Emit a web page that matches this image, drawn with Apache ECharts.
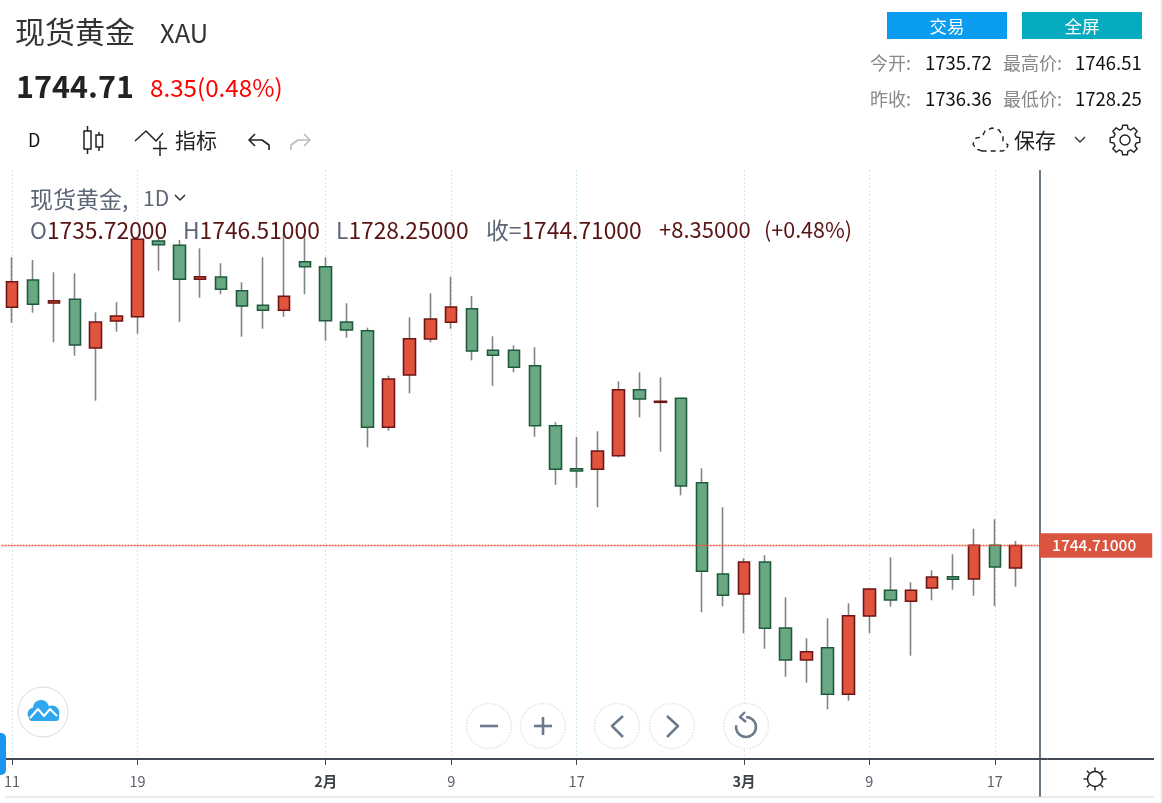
<!DOCTYPE html>
<html><head><meta charset="utf-8">
<style>html,body{margin:0;padding:0;background:#fff}#c{width:1162px;height:803px}</style>
<script src="https://cdn.jsdelivr.net/npm/echarts@6/dist/echarts.min.js"></script>
</head><body><div id="c"></div>
<script>
const dates = ['01-11','01-12','01-13','01-14','01-15','01-18','01-19','01-20','01-21','01-22','01-25','01-26','01-27','01-28','01-29',
 '02-01','02-02','02-03','02-04','02-05','02-08','02-09','02-10','02-11','02-12','02-15','02-16','02-17','02-18','02-19','02-22','02-23','02-24','02-25','02-26',
 '03-01','03-02','03-03','03-04','03-05','03-08','03-09','03-10','03-11','03-12','03-15','03-16','03-17','03-18',''];
const tickLabels = {'01-11':'11','01-19':'19','02-01':'2月','02-09':'9','02-17':'17','03-01':'3月','03-09':'9','03-17':'17'};
const opens = [1839.99,1850.91,1841.71,1843.19,1823.71,1834.51,1836.23,1866.51,1864.79,1851.19,1852.11,1846.63,1840.79,1838.79,1858.23,1856.23,1834.11,1830.63,1791.99,1812.91,1827.31,1833.99,1839.43,1822.79,1822.79,1816.63,1792.63,1775.43,1775.19,1780.63,1807.03,1801.99,1803.59,1769.83,1733.31,1725.31,1738.11,1711.71,1698.91,1703.83,1685.19,1716.51,1726.79,1722.39,1727.71,1732.23,1731.31,1744.79,1735.72];
const closes = [1850.23,1841.19,1842.63,1824.91,1834.11,1836.51,1867.19,1865.03,1851.19,1852.23,1847.19,1840.51,1838.79,1844.39,1856.23,1834.63,1830.91,1791.99,1811.31,1827.43,1835.31,1840.11,1822.51,1820.79,1815.99,1792.63,1775.19,1774.51,1782.51,1807.03,1803.31,1802.39,1768.51,1734.39,1724.79,1738.11,1711.59,1698.91,1702.23,1685.19,1716.63,1727.31,1722.91,1726.79,1732.11,1731.19,1744.79,1736.11,1744.71];
const lows = [1833.83,1837.83,1825.99,1820.63,1802.63,1830.23,1829.43,1854.63,1834.23,1843.83,1845.19,1828.23,1831.43,1836.23,1845.19,1826.63,1827.83,1783.99,1790.63,1805.59,1825.99,1831.43,1818.79,1808.63,1813.99,1788.23,1769.03,1767.83,1759.99,1779.99,1795.99,1782.23,1764.79,1717.99,1720.39,1709.59,1703.43,1692.23,1689.83,1679.19,1682.63,1709.59,1720.23,1700.63,1722.79,1727.03,1724.63,1720.51,1728.25];
const highs = [1859.99,1858.91,1853.99,1853.59,1837.99,1841.99,1867.31,1867.71,1866.91,1863.59,1857.59,1849.99,1859.99,1869.71,1869.71,1859.99,1841.59,1831.83,1812.63,1835.99,1845.59,1852.23,1844.51,1828.39,1824.79,1823.99,1793.99,1788.11,1790.39,1810.39,1813.99,1811.99,1803.71,1775.59,1759.99,1739.59,1740.79,1723.99,1707.59,1715.59,1721.59,1727.43,1739.99,1729.99,1734.79,1741.19,1751.43,1755.19,1746.51];
const lastPrice = 1744.71;
const axisMin = 1659.31, axisMax = 1894.91;
const splitColors = ['#cde6ea','#d5ecdc','#cde6ea','#cde6ea','#cde6ea','#e0e0f0','#efd6ef','#efd6ef'];

const FONT = '"Noto Sans CJK SC","Noto Sans",sans-serif';
const wickData = opens.map((o,i)=>[o,closes[i],lows[i],highs[i]]);
const bodyData = opens.map((o,i)=>[o,closes[i],Math.min(o,closes[i]),Math.max(o,closes[i])]);

const g = [];
function T(text,x,y,size,fill,o){o=o||{};g.push({type:'text',z:100,x:x,y:y,style:{text:text,fill:fill,font:(o.weight||'normal')+' '+size+'px '+FONT,align:o.align||'left',verticalAlign:'middle'}});}
function L(pts,stroke,w,o){o=o||{};g.push({type:'polyline',z:o.z===undefined?100:o.z,shape:{points:pts},style:{stroke:stroke,lineWidth:w,fill:null,lineDash:o.dash,lineCap:o.cap||'butt',lineJoin:'round'}});}
function R(x,y,w,h,fill,r,st){g.push({type:'rect',z:100,shape:{x:x,y:y,width:w,height:h,r:r||0},style:{fill:fill,stroke:st||null}});}
function C(cx,cy,r,fill,stroke,o){o=o||{};g.push({type:'circle',z:o.z||100,shape:{cx:cx,cy:cy,r:r},style:{fill:fill,stroke:stroke,lineWidth:o.w||1,lineDash:o.dash}});}

// header
T('现货黄金',15,32,30,'#333');
T('XAU',160,33,25.5,'#333');
T('1744.71',16,86,30.5,'#222',{weight:'bold'});
T('8.35(0.48%)',150,88,24.2,'#f00');
T('D',28,140,18,'#111');
// candle icon
L([[87.5,126],[87.5,154]],'#222',1.5); g.push({type:'rect',z:101,shape:{x:84,y:131,width:7,height:18},style:{fill:'#fff',stroke:'#222',lineWidth:1.5}});
L([[99,132],[99,151]],'#222',1.5); g.push({type:'rect',z:101,shape:{x:96,y:135,width:6.5,height:12},style:{fill:'#fff',stroke:'#222',lineWidth:1.5}});
// indicators icon
L([[135,141],[146,131],[156,141],[163,133]],'#222',1.5);
L([[160,141],[160,156]],'#222',1.5); L([[153,148.5],[167,148.5]],'#222',1.5);
T('指标',175,140,21,'#222');
// undo / redo
L([[255,134],[249,140],[255,146]],'#222',1.6); L([[249,140],[262,140],[269,145],[269,150]],'#222',1.6);
L([[304,134],[310,140],[304,146]],'#bbb',1.6); L([[310,140],[298,140],[291,145],[291,150]],'#bbb',1.6);
// legend
T('现货黄金,',30,199,23,'#5c6678'); T('1D',143,198,21,'#5c6678');
L([[175,195],[180,200],[185,195]],'#333',1.5);
const RS=22.8, rich={a:{fill:'#5c6678',font:RS+'px '+FONT},b:{fill:'#5a1414',font:RS+'px '+FONT}};
[['O','1735.72000',30],['H','1746.51000',183],['L','1728.25000',336],['收=','1744.71000',486]].forEach(a=>{
  g.push({type:'text',z:100,x:a[2],y:230,style:{text:'{a|'+a[0]+'}{b|'+a[1]+'}',font:RS+'px '+FONT,verticalAlign:'middle',rich:rich}});
});
T('+8.35000',659,230,22,'#5a1414');
T('(+0.48%)',764,230,21.5,'#5a1414');
// right top
R(887,12,120,27,'#0a9cef'); R(1022,12,120,27,'#06abc0');
T('交易',947,26,17.5,'#fff',{align:'center'}); T('全屏',1082,26,17.5,'#fff',{align:'center'});
[['今开:','1735.72','最高价:','1746.51',63],['昨收:','1736.36','最低价:','1728.25',99]].forEach(r=>{
  T(r[0],870,r[4],18,'#888'); T(r[1],925,r[4],18.5,'#111'); T(r[2],1003,r[4],18,'#888'); T(r[3],1075,r[4],18.5,'#111');
});
// cloud, save
const cloud=[[982,151],[976,149],[973,144],[976,138],[982,137],[985,131],[992,128],[999,130],[1003,136],[1003,141],[1008,145],[1006,150],[1002,151],[982,151]];
L(cloud,'#222',1.4,{dash:[5,4]});
T('保存',1014,140,21,'#222');
L([[1075,137],[1080,142],[1085,137]],'#333',1.4);
// gear
(function(){const pts=[],cx=1125,cy=140,n=8;for(let i=0;i<n;i++){const a=i/n*Math.PI*2;[[-.26,15],[-.16,15],[.16,15],[.26,15]].forEach((d,j)=>{const r=(j===0||j===3)?11.5:15;const t=a+d[0];pts.push([cx+r*Math.cos(t),cy+r*Math.sin(t)]);});const t=a+Math.PI/n;pts.push([cx+11.5*Math.cos(t),cy+11.5*Math.sin(t)]);}pts.push(pts[0]);L(pts,'#222',1.4);C(cx,cy,5,null,'#222',{w:1.4});})();
// frame
L([[1040,170],[1040,797]],'#4a5865',1.6,{z:0});
L([[1048,759],[1154,759]],'#434a56',2);
L([[5,797],[1154,797]],'#d2d6dc',1.2);
L([[1161,0],[1161,803]],'#dfe3ea',1);
R(-6,733,12,42,'#1a96f0',5);
// logo
C(43,712,25,'#fff','#ddd');
C(34,714,6.5,'#2ea6f0',null);C(41,708,8,'#2ea6f0',null);C(52,713,7.5,'#2ea6f0',null);R(29,713,30,8,'#2ea6f0',3);
L([[30,718],[38,709],[44,716],[50,709],[57,716]],'#fff',2);
// nav buttons
[[489,726],[543,726],[617,726],[672,726],[746,726]].forEach(p=>{C(p[0],p[1],22.5,'#fff','#e2e2e2',{w:1.5,dash:[1.5,1.5]});});
const ic='#6b7b8c';
L([[480,726],[498,726]],ic,2.6);
L([[534,726],[552,726]],ic,2.6);L([[543,717],[543,735]],ic,2.6);
L([[623,716],[612,726],[623,737]],ic,2.6);
L([[667,716],[678,726],[667,737]],ic,2.6);
(function(){const pts=[];for(let i=-90;i<=190;i+=20){const a=i*Math.PI/180;pts.push([746+10*Math.cos(a),727+10*Math.sin(a)]);}L(pts,ic,2.6);L([[745,712],[740,717],[746,722]],ic,2.4);})();
// sun
C(1095,779,7.5,'#fff','#222',{w:1.5});
for(let i=0;i<8;i++){const a=i/8*Math.PI*2;L([[1095+8*Math.cos(a),779+8*Math.sin(a)],[1095+11.5*Math.cos(a),779+11.5*Math.sin(a)]],'#222',1.4);}

const chart = echarts.init(document.getElementById('c'),null,{renderer:'canvas'});
const shown = (i,v)=>tickLabels[v]!==undefined;
chart.setOption({
  animation:false,
  backgroundColor:'#fff',
  grid:{left:1.6,top:170,width:1045.5,height:589,containLabel:false},
  xAxis:{type:'category',data:dates,boundaryGap:true,
    axisLine:{show:true,lineStyle:{color:'#434a56',width:2}},
    axisTick:{show:true,alignWithLabel:true,interval:shown,length:6,lineStyle:{color:'#434a56',width:1}},
    splitLine:{show:true,alignWithLabel:true,interval:shown,lineStyle:{color:splitColors,type:[2,2],width:1}},
    axisLabel:{show:true,interval:shown,margin:15,fontFamily:FONT,fontSize:14.5,color:'#5a5f6a',
      formatter:v=>{const s=tickLabels[v];return s&&s.indexOf('月')>=0?'{b|'+s+'}':(s||'');},
      rich:{b:{fontWeight:'bold',fontSize:14.5,color:'#3c4048',fontFamily:FONT}}}},
  yAxis:{type:'value',position:'right',scale:true,min:axisMin,max:axisMax,
    axisLine:{show:false},axisTick:{show:false},splitLine:{show:false},
    axisLabel:{show:true,customValues:[lastPrice],margin:-8,formatter:v=>Number(v).toFixed(5),
      backgroundColor:'#d9553f',color:'#fff',fontFamily:FONT,fontSize:15.5,fontWeight:500,padding:[5,16,4,13]}},
  series:[
   {name:'wick',type:'candlestick',data:wickData,barWidth:1,silent:true,z:2,
    itemStyle:{color:'#808484',color0:'#808484',borderColor:'#808484',borderColor0:'#808484',borderWidth:1.6}},
   {name:'现货黄金',type:'candlestick',data:bodyData,barWidth:12,silent:true,z:3,
    itemStyle:{color:'#e0533c',color0:'#6aa883',borderColor:'#6e1515',borderColor0:'#1e5a3c',borderWidth:1.6},
    markLine:{silent:true,symbol:'none',label:{show:false},animation:false,
      data:[{yAxis:lastPrice,lineStyle:{color:'#f0503a',type:[2,1],width:1.4,opacity:1}}]}}
  ],
  graphic:g
});
</script></body></html>
